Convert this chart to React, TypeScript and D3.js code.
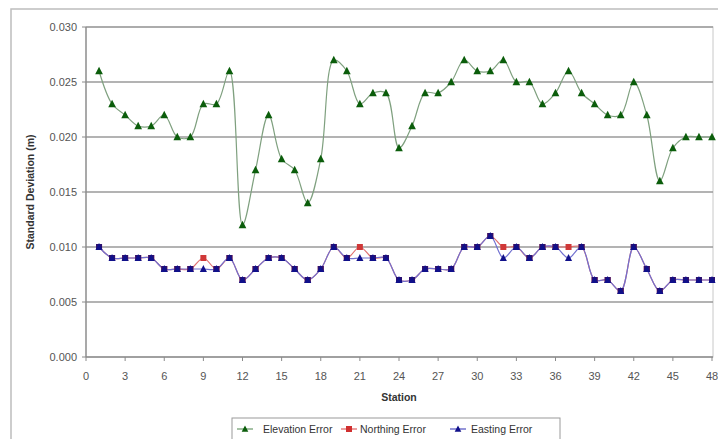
import React from "react";
import * as d3 from "d3";

const stations = d3.range(1, 49);
const elevation = [0.026,0.023,0.022,0.021,0.021,0.022,0.020,0.020,0.023,0.023,0.026,0.012,0.017,0.022,0.018,0.017,0.014,0.018,0.027,0.026,0.023,0.024,0.024,0.019,0.021,0.024,0.024,0.025,0.027,0.026,0.026,0.027,0.025,0.025,0.023,0.024,0.026,0.024,0.023,0.022,0.022,0.025,0.022,0.016,0.019,0.020,0.020,0.020];
const northing = [0.010,0.009,0.009,0.009,0.009,0.008,0.008,0.008,0.009,0.008,0.009,0.007,0.008,0.009,0.009,0.008,0.007,0.008,0.010,0.009,0.010,0.009,0.009,0.007,0.007,0.008,0.008,0.008,0.010,0.010,0.011,0.010,0.010,0.009,0.010,0.010,0.010,0.010,0.007,0.007,0.006,0.010,0.008,0.006,0.007,0.007,0.007,0.007];
const easting = [0.010,0.009,0.009,0.009,0.009,0.008,0.008,0.008,0.008,0.008,0.009,0.007,0.008,0.009,0.009,0.008,0.007,0.008,0.010,0.009,0.009,0.009,0.009,0.007,0.007,0.008,0.008,0.008,0.010,0.010,0.011,0.009,0.010,0.009,0.010,0.010,0.009,0.010,0.007,0.007,0.006,0.010,0.008,0.006,0.007,0.007,0.007,0.007];
const xTicks = d3.range(0, 49, 3);
const yTicks = [0, 0.005, 0.01, 0.015, 0.02, 0.025, 0.03];
const legendLabels = ["Elevation Error", "Northing Error", "Easting Error"];

const W = 718, H = 439;
const left = 86, right = 712, top = 27, bottom = 357;
const font = "Liberation Sans, Arial, sans-serif";

export default function App() {
  const x = d3.scaleLinear().domain([0, 48]).range([left, right]);
  const y = d3.scaleLinear().domain([0, 0.03]).range([bottom, top]);
  const mk = (vals: number[]) =>
    d3.line<number>().x((_, i) => x(stations[i])).y((v) => y(v)).curve(d3.curveCatmullRom.alpha(0.5))(vals) || "";
  const tri = (cx: number, cy: number, s: number) =>
    `M${cx},${cy - s * 0.6}L${cx + s * 0.55},${cy + s * 0.45}L${cx - s * 0.55},${cy + s * 0.45}Z`;

  const legendItems = [
    { label: legendLabels[0], lineX: 237, textX: 263, color: "#6a9a6a", kind: "tri", fill: "#0b5d0b" },
    { label: legendLabels[1], lineX: 341, textX: 360, color: "#e06060", kind: "sq", fill: "#d03030" },
    { label: legendLabels[2], lineX: 450, textX: 471, color: "#5050c0", kind: "tri", fill: "#10108a" },
  ];

  return (
    <svg width={W} height={H} style={{ position: "absolute", left: 0, top: 0, background: "#fff" }}>
      <rect x={11} y={9} width={800} height={500} fill="#fff" stroke="#bdbdbd" strokeWidth={1.5} />
      <rect x={left} y={top} width={right - left + 1} height={bottom - top} fill="none" stroke="#c8c8c8" strokeWidth={1} />
      {yTicks.filter((t) => t > 0).map((t) => (
        <line key={t} x1={left} x2={right + 1} y1={y(t)} y2={y(t)} stroke="#9a9a9a" strokeWidth={1.3} />
      ))}
      <line x1={left} x2={left} y1={top} y2={bottom} stroke="#8a8a8a" strokeWidth={1.3} />
      <line x1={left} x2={right + 1} y1={bottom} y2={bottom} stroke="#8a8a8a" strokeWidth={1.3} />
      {yTicks.map((t) => (
        <g key={t}>
          <line x1={left - 4} x2={left} y1={y(t)} y2={y(t)} stroke="#8a8a8a" />
          <text x={77} y={y(t) + 4} textAnchor="end" fontFamily={font} fontSize={11} fill="#555">
            {t.toFixed(3)}
          </text>
        </g>
      ))}
      {xTicks.map((t) => (
        <g key={t}>
          <line x1={x(t)} x2={x(t)} y1={bottom} y2={bottom + 4} stroke="#8a8a8a" />
          <text x={x(t)} y={380} textAnchor="middle" fontFamily={font} fontSize={11} fill="#555">
            {t}
          </text>
        </g>
      ))}
      <text x={399} y={401} textAnchor="middle" fontFamily={font} fontSize={10.5} fontWeight="bold" fill="#333">
        Station
      </text>
      <text transform={`translate(34,${(top + bottom) / 2}) rotate(-90)`} textAnchor="middle" fontFamily={font} fontSize={10.5} fontWeight="bold" fill="#333">
        Standard Deviation (m)
      </text>

      <path d={mk(elevation)} fill="none" stroke="#7fa07f" strokeWidth={1.2} />
      <path d={mk(northing)} fill="none" stroke="#e07070" strokeWidth={1.2} />
      <path d={mk(easting)} fill="none" stroke="#7070d0" strokeWidth={1.2} />

      {elevation.map((v, i) => (
        <path key={"e" + i} d={tri(x(stations[i]), y(v), 7)} fill="#0b5d0b" />
      ))}
      {northing.map((v, i) => (
        <rect key={"n" + i} x={x(stations[i]) - 3} y={y(v) - 3} width={6} height={6} fill="#d03838" />
      ))}
      {easting.map((v, i) => (
        <g key={"a" + i}>
          {v === northing[i] ? (
            <rect x={x(stations[i]) - 3} y={y(v) - 3} width={6} height={6} fill="#2a1070" />
          ) : null}
          <path d={tri(x(stations[i]), y(v), 6.5)} fill="#10108a" />
        </g>
      ))}

      <rect x={232} y={418} width={328} height={30} fill="#fff" stroke="#9a9a9a" strokeWidth={1} />
      {legendItems.map((it) => (
        <g key={it.label}>
          <line x1={it.lineX} x2={it.lineX + 16} y1={429} y2={429} stroke={it.color} strokeWidth={1.2} />
          {it.kind === "tri" ? (
            <path d={tri(it.lineX + 8, 429, 6)} fill={it.fill} />
          ) : (
            <rect x={it.lineX + 5} y={426} width={6} height={6} fill={it.fill} />
          )}
          <text x={it.textX} y={433} fontFamily={font} fontSize={10.5} fill="#333">
            {it.label}
          </text>
        </g>
      ))}
    </svg>
  );
}
